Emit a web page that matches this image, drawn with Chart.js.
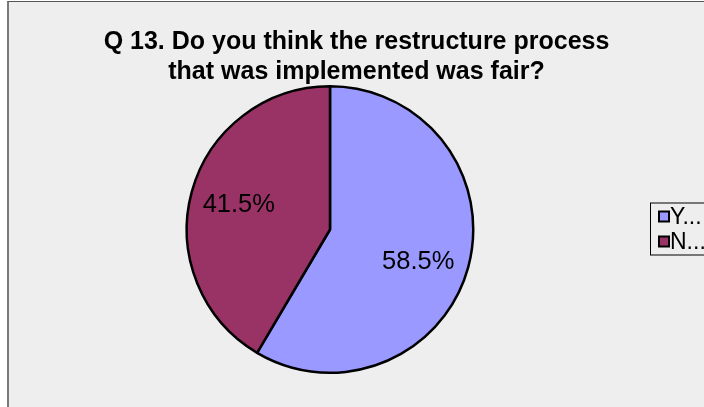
<!DOCTYPE html>
<html>
<head>
<meta charset="utf-8">
<script src="https://cdn.jsdelivr.net/npm/chart.js@4/dist/chart.umd.min.js"></script>
<style>
  html, body { margin: 0; padding: 0; background: #fff; }
  #frame {
    position: absolute; left: 7px; top: 1px; width: 697px; height: 406px;
    border-left: 2px solid #7a7a7a; border-top: 1px solid #555;
    background: #eeeeee;
  }
  #myChart { display: block; }
</style>
</head>
<body>
<div id="frame"><canvas id="myChart" width="695" height="405"></canvas></div>
<script>
var categories = ['Yes', 'No'];
var percents = [58.5, 41.5];
var sliceColors = ['#9999ff', '#993366'];
var titleLines = ['Q 13. Do you think the restructure process', 'that was implemented was fair?'];

var FONT = '"Liberation Sans", Arial, sans-serif';

// labels in the slices + the little boxed legend on the right
var pieExtras = {
    id: 'pieExtras',
    afterLayout: function(chart) {
        // title is centred over the whole frame, not just the pie part
        var t = chart.titleBlock;
        t.left = 0;
        t.right = chart.width;
        t.width = chart.width;
    },
    afterDatasetsDraw: function(chart) {
        var ctx = chart.ctx;
        var meta = chart.getDatasetMeta(0);
        ctx.save();
        ctx.font = '25.5px ' + FONT;
        ctx.fillStyle = '#000';
        ctx.textAlign = 'center';
        ctx.textBaseline = 'middle';
        meta.data.forEach(function(arc, i) {
            var p = arc.getProps(['x', 'y', 'startAngle', 'endAngle', 'outerRadius'], true);
            var mid = (p.startAngle + p.endAngle) / 2;
            var r = p.outerRadius * 0.66;
            ctx.fillText(percents[i].toFixed(1) + '%', p.x + Math.cos(mid) * r - (i === 0 ? 3 : 0), p.y + Math.sin(mid) * r + (i === 0 ? 8 : 0));
        });
        ctx.restore();
    },
    afterDraw: function(chart) {
        var ctx = chart.ctx;
        var area = chart.chartArea;
        var cy = (area.top + area.bottom) / 2;
        var left = area.right - 1, top = cy - 27, rowH = 25;
        ctx.save();
        ctx.strokeStyle = '#000';
        ctx.lineWidth = 1;
        ctx.strokeRect(left + 0.5, top + 0.5, 100, 52);
        ctx.font = '23px ' + FONT;
        ctx.textBaseline = 'middle';
        categories.forEach(function(c, i) {
            var y = top + 14 + i * rowH;
            ctx.fillStyle = sliceColors[i];
            ctx.fillRect(left + 9, y - 5, 10, 10);
            ctx.lineWidth = 2;
            ctx.strokeRect(left + 9, y - 5, 10, 10);
            ctx.fillStyle = '#000';
            ctx.fillText(c.charAt(0) + '...', left + 20, y + 1);
        });
        ctx.restore();
    }
};

var ctx = document.getElementById('myChart').getContext('2d');
var myChart = new Chart(ctx, {
    type: 'pie',
    data: {
        labels: categories,
        datasets: [{
            data: percents,
            backgroundColor: sliceColors,
            borderColor: '#000',
            borderWidth: 2.5
        }]
    },
    options: {
        responsive: false,
        animation: { duration: 0 },
        layout: { padding: { top: 0, bottom: 33, left: 0, right: 53 } },
        plugins: {
            title: {
                display: true,
                text: titleLines,
                color: '#000',
                font: { family: FONT, size: 25, weight: 'bold', lineHeight: 1.2 },
                padding: { top: 25, bottom: -2 }
            },
            legend: { display: false },
            tooltip: { enabled: false }
        }
    },
    plugins: [pieExtras]
});
</script>
</body>
</html>
